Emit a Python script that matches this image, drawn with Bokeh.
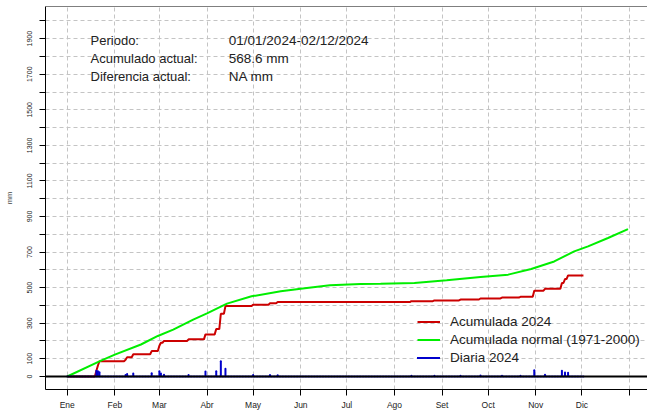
import numpy as np
from bokeh.plotting import figure
from bokeh.models import Range1d, FixedTicker, Span, Label, Legend, LegendItem
from bokeh.embed import file_html
from bokeh.resources import INLINE

FONT = "Liberation Sans"

# ---- axis categories / ticks ----
month_labels = ["Ene", "Feb", "Mar", "Abr", "May", "Jun", "Jul", "Ago", "Set", "Oct", "Nov", "Dic", ""]
month_start_days = [1, 32, 61, 92, 122, 153, 183, 214, 245, 275, 306, 336, 367]
y_ticks = list(range(0, 2001, 100))
y_tick_labels = ["0", "100", "", "300", "", "500", "", "700", "", "900", "", "1100", "",
                 "1300", "", "1500", "", "1700", "", "1900", ""]

# ---- Diaria 2024 (rainy days, day of year -> mm); other days are 0 up to 02/12 ----
last_day = 337
rain_days = [20, 21, 22, 39, 40, 44, 56, 61, 62, 64, 80, 91, 98, 101, 104, 122, 133, 138,
             225, 240, 257, 270, 284, 296, 305, 312, 323, 325, 327]
rain_mm = [32, 30, 24, 8, 14, 17, 18, 30, 17, 10, 9, 28, 30, 86, 43, 8, 8, 7,
           5, 4, 5, 6, 5, 4, 35, 10, 33, 22, 20.6]

# ---- Acumulada normal (1971-2000) ----
normal_days = [1, 23, 32, 49, 60, 70, 83, 92, 105, 121, 140, 157, 172, 192, 205, 227,
               248, 270, 288, 303, 318, 331, 340, 353, 366]
normal_mm = [0, 89, 123, 180, 228, 264, 320, 355, 410, 451, 479, 498, 513, 520, 522, 526,
             541, 560, 573, 605, 647, 704, 732, 779, 829]

# ---- info text ----
info_left = ["Periodo:", "Acumulado actual:", "Diferencia actual:"]
info_right = ["01/01/2024-02/12/2024", "568.6 mm", "NA mm"]

days = np.arange(1, last_day + 1)
daily = np.zeros(last_day)
daily[np.array(rain_days) - 1] = rain_mm
cum = np.cumsum(daily)

Y_TOP = 2081
p = figure(width=647, height=412,
           x_range=Range1d(-13.12, 378.7), y_range=Range1d(-73, Y_TOP),
           output_backend="svg", toolbar_location=None,
           min_border_left=45, min_border_right=0, min_border_top=6, min_border_bottom=22)
p.outline_line_color = None
p.background_fill_color = "white"
p.border_fill_color = "white"

# x axis
p.xaxis.ticker = FixedTicker(ticks=month_start_days)
p.xaxis.major_label_overrides = {d: lab for d, lab in zip(month_start_days, month_labels)}
p.xaxis.major_label_text_font = FONT
p.xaxis.major_label_text_font_size = "8.5px"
p.xaxis.major_label_text_color = "#222222"
p.xaxis.major_tick_out = 6
p.xaxis.major_tick_in = 0
p.xaxis.minor_tick_out = 0
p.xaxis.major_label_standoff = 4
p.xaxis.axis_line_color = "black"

# y axis
p.yaxis.ticker = FixedTicker(ticks=y_ticks)
p.yaxis.major_label_overrides = {t: lab for t, lab in zip(y_ticks, y_tick_labels)}
p.yaxis.major_label_orientation = "vertical"
p.yaxis.major_label_text_font = FONT
p.yaxis.major_label_text_font_size = "7px"
p.yaxis.major_label_text_color = "#222222"
p.yaxis.major_tick_out = 6
p.yaxis.major_tick_in = 0
p.yaxis.minor_tick_out = 0
p.yaxis.major_label_standoff = 7
p.yaxis.axis_label = "mm"
p.yaxis.axis_label_text_font = FONT
p.yaxis.axis_label_text_font_size = "7.5px"
p.yaxis.axis_label_text_font_style = "normal"
p.yaxis.axis_label_standoff = 11
p.yaxis.axis_line_color = "black"

for g in (p.xgrid, p.ygrid):
    g.grid_line_color = "#C4C4C4"
    g.grid_line_dash = "4 3"
    g.grid_line_width = 1

r_red = p.line(days, cum, line_color="#CC0000", line_width=2)
r_green = p.line(normal_days, normal_mm, line_color="#00EE00", line_width=2)
r_blue = p.segment(x0=days, y0=np.zeros(last_day), x1=days, y1=daily,
                   line_color="#0000CC", line_width=2, line_cap="round")

p.add_layout(Span(location=0, dimension="width", line_color="black", line_width=2))
p.add_layout(Span(location=Y_TOP, dimension="width", line_color="black", line_width=1))

for i, (a, b) in enumerate(zip(info_left, info_right)):
    yv = 1887 - i * 101
    p.add_layout(Label(x=16.2, y=yv, text=a, text_font=FONT, text_font_size="13px",
                       text_color="#222222", text_baseline="alphabetic"))
    p.add_layout(Label(x=106.2, y=yv, text=b, text_font=FONT, text_font_size="13.5px",
                       text_color="#222222", text_baseline="alphabetic"))

legend = Legend(items=[LegendItem(label="Acumulada 2024", renderers=[r_red]),
                       LegendItem(label="Acumulada normal (1971-2000)", renderers=[r_green]),
                       LegendItem(label="Diaria 2024", renderers=[r_blue])],
                location=(372, 24), border_line_color=None, background_fill_alpha=0,
                padding=0, margin=0, spacing=3, glyph_height=15, glyph_width=23,
                label_height=15, label_standoff=10, label_text_font=FONT,
                label_text_font_size="13.5px", label_text_color="#222222")
p.add_layout(legend)

open("out.html", "w").write(file_html(p, INLINE))
